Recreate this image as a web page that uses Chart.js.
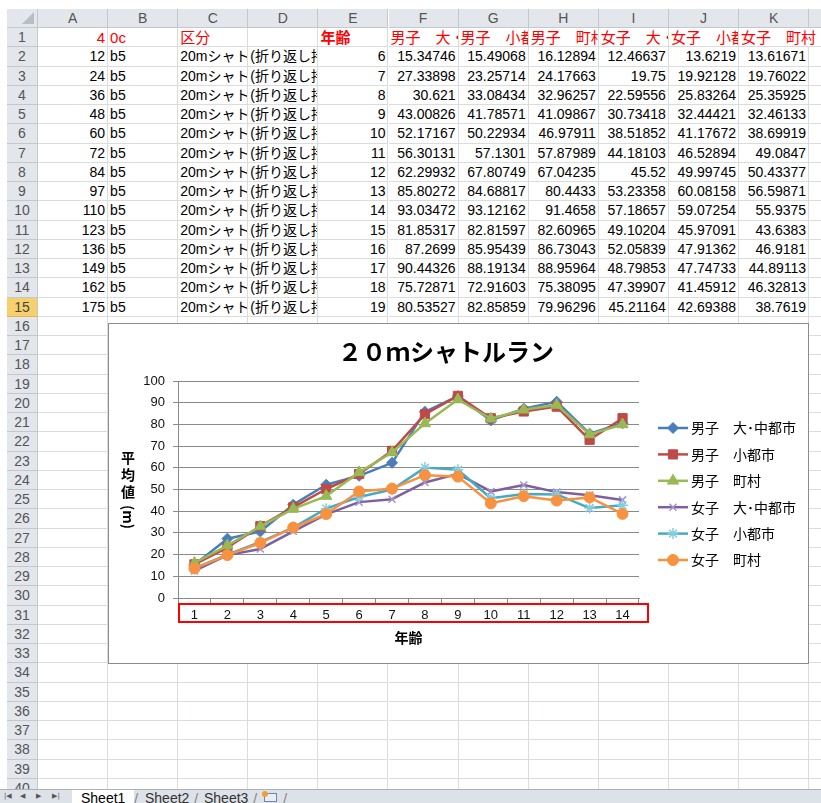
<!DOCTYPE html>
<html><head><meta charset="utf-8">
<script src="https://cdn.jsdelivr.net/npm/chart.js@4.4.1/dist/chart.umd.min.js"></script>
<style>
html,body{margin:0;padding:0;background:#fff;overflow:hidden;width:821px;height:803px;}
#sheet{position:absolute;left:0;top:0;width:821px;height:803px;overflow:hidden;font-family:"Liberation Sans","Noto Sans CJK JP",sans-serif;font-size:14px;}
.c{position:absolute;box-sizing:border-box;border-right:1px solid #dadcdd;border-bottom:1px solid #dadcdd;white-space:nowrap;overflow:hidden;line-height:19px;padding:0 2px;color:#000;background:#fff;}
.c.ov{overflow:visible;z-index:2;border-right-color:transparent;background:transparent;}
.h{position:absolute;box-sizing:border-box;background:#e3e6eb;border-right:1px solid #c3c8cf;border-bottom:1px solid #c3c8cf;color:#555;text-align:center;line-height:19px;white-space:nowrap;overflow:hidden;}
.h.sel{background:#f7d06e;border-bottom-color:#e2b450;color:#444;}
#chartBox{position:absolute;left:108px;top:323px;width:701px;height:341px;box-sizing:border-box;border:1px solid #8c8c8c;background:#fff;z-index:3;}
#chartBox canvas{position:absolute;left:0;top:0;}
#tabs{position:absolute;left:0;top:789px;width:821px;height:14px;background:#dde2e9;border-top:1px solid #aab1bb;overflow:hidden;z-index:3;}
.tab{position:absolute;top:0;height:14px;line-height:17px;font-size:14px;color:#333;white-space:nowrap;}
</style></head>
<body>
<div id="sheet"></div>
<script>
// ---------- data ----------
const xLabels = ['1','2','3','4','5','6','7','8','9','10','11','12','13','14'];
const ages = [6,7,8,9,10,11,12,13,14,15,16,17,18,19];
const colA = [12,24,36,48,60,72,84,97,110,123,136,149,162,175];
const seriesNames = ['男子　大･中都市','男子　小都市','男子　町村','女子　大･中都市','女子　小都市','女子　町村'];
const maleLarge = [15.34746,27.33898,30.621,43.00826,52.17167,56.30131,62.29932,85.80272,93.03472,81.85317,87.2699,90.44326,75.72871,80.53527];
const maleSmall = [15.49068,23.25714,33.08434,41.78571,50.22934,57.1301,67.80749,84.68817,93.12162,82.81597,85.95439,88.19134,72.91603,82.85859];
const maleTown = [16.12894,24.17663,32.96257,41.09867,46.97911,57.87989,67.04235,80.4433,91.4658,82.60965,86.73043,88.95964,75.38095,79.96296];
const femaleLarge = [12.46637,19.75,22.59556,30.73418,38.51852,44.18103,45.52,53.23358,57.18657,49.10204,52.05839,48.79853,47.39907,45.21164];
const femaleSmall = [13.6219,19.92128,25.83264,32.44421,41.17672,46.52894,49.99745,60.08158,59.07254,45.97091,47.91362,47.74733,41.45912,42.69388];
const femaleTown = [13.61671,19.76022,25.35925,32.46133,38.69919,49.0847,50.43377,56.59871,55.9375,43.6383,46.9181,44.89113,46.32813,38.7619];
const chartTitle = '２０ｍシャトルラン';
const xTitle = '年齢';
const yTitle = '平均値(m)';
const yTicks = {min:0, max:100, step:10};
const colLetters = ['A','B','C','D','E','F','G','H','I','J','K','L'];
const row1 = ['4','0c','区分','','年齢'];
const colB = 'b5', colC = '20mシャトルラン', colD = '(折り返し持久走)';
const sheetNames = ['Sheet1','Sheet2','Sheet3'];

// ---------- spreadsheet ----------
const sheet = document.getElementById('sheet');
const COL_X0 = 38, COL_W = 70.1, ROW_Y0 = 28, ROW_H = 19.25, HDR_Y = 9, HDR_X = 7;
function div(cls, x, y, w, h, text, style) {
  const d = document.createElement('div');
  d.className = cls;
  d.style.left = x + 'px'; d.style.top = y + 'px';
  d.style.width = w + 'px'; d.style.height = h + 'px';
  if (text !== undefined && text !== '') d.textContent = text;
  if (style) Object.assign(d.style, style);
  sheet.appendChild(d);
  return d;
}
// corner
const corner = div('h', HDR_X, HDR_Y, COL_X0 - HDR_X, ROW_Y0 - HDR_Y);
const tri = document.createElement('div');
Object.assign(tri.style, {position:'absolute', right:'3px', bottom:'3px', width:0, height:0,
  borderLeft:'12px solid transparent', borderBottom:'12px solid #b8bec6'});
corner.appendChild(tri);
// column headers
colLetters.forEach((L, i) => div('h', COL_X0 + i * COL_W, HDR_Y, COL_W, ROW_Y0 - HDR_Y, L));
const series = [maleLarge, maleSmall, maleTown, femaleLarge, femaleSmall, femaleTown];
for (let r = 1; r <= 40; r++) {
  const y = ROW_Y0 + (r - 1) * ROW_H;
  div('h' + (r === 15 ? ' sel' : ''), HDR_X, y, COL_X0 - HDR_X, ROW_H, String(r));
  for (let c = 0; c < colLetters.length; c++) {
    let text = '', align = 'left', st = {};
    if (r === 1) {
      if (c < 5) text = row1[c];
      else if (c - 5 < seriesNames.length) text = seriesNames[c - 5].replace('･', '・');
      st.color = '#ff0000';
      st.fontSize = '15px';
      if (c === 0) align = 'right';
      if (c === 4) st.fontWeight = 'bold';
    } else if (r <= 15) {
      const i = r - 2;
      if (c === 0) { text = String(colA[i]); align = 'right'; }
      else if (c === 1) text = colB;
      else if (c === 2) text = colC;
      else if (c === 3) text = colD;
      else if (c === 4) { text = String(ages[i]); align = 'right'; }
      else if (c - 5 < series.length) { text = String(series[c - 5][i]); align = 'right'; }
    }
    st.textAlign = align;
    const d = div('c', COL_X0 + c * COL_W, y, COL_W, ROW_H, text, st);
    if (r === 1 && c === 10) d.classList.add('ov');
  }
}
// tab bar
const tabs = document.createElement('div'); tabs.id = 'tabs'; sheet.appendChild(tabs);
function tab(x, text, style) {
  const t = document.createElement('div'); t.className = 'tab';
  t.style.left = x + 'px'; t.textContent = text; Object.assign(t.style, style || {});
  tabs.appendChild(t); return t;
}
const navSt = {fontFamily:'DejaVu Sans', fontSize:'7px', lineHeight:'13px', color:'#555'};
tab(4, '|◀', navSt);
tab(20, '◀', navSt);
tab(36, '▶', navSt);
tab(52, '▶|', navSt);
tab(72, '', {width:'62px', background:'#fff'});
tab(81, sheetNames[0], {color:'#000'});
tab(134, '/', {color:'#888', fontSize:'15px'});
tab(145, sheetNames[1]);
tab(194, '/', {color:'#888', fontSize:'15px'});
tab(204, sheetNames[2]);
tab(253, '/', {color:'#888', fontSize:'15px'});
tab(264, '', {width:'13px', height:'9px', top:'3px', border:'1px solid #6f86a8', background:'#e8eef8', boxSizing:'border-box'});
tab(262, '', {width:'6px', height:'6px', top:'1px', borderRadius:'3px', background:'#f0a030'});
tab(283, '/', {color:'#888', fontSize:'15px'});

// ---------- chart ----------
const box = document.createElement('div'); box.id = 'chartBox'; sheet.appendChild(box);
const cv = document.createElement('canvas'); cv.width = 699; cv.height = 339; box.appendChild(cv);

const styles = [
  {color:'#4a7ebb', point:'rectRot', r:5.5, pc:'#4a7ebb', fill:true},
  {color:'#be4b48', point:'rect', r:6.5, pc:'#be4b48', fill:true},
  {color:'#98b954', point:'triangle', r:6.5, pc:'#98b954', fill:true},
  {color:'#7d60a0', point:'crossRot', r:5, pc:'#a493cc', fill:false},
  {color:'#46aac5', point:'star', r:5.5, pc:'#86cde0', fill:false},
  {color:'#f69240', point:'circle', r:5.5, pc:'#f69240', fill:true}
];
const datasets = series.map((s, i) => ({
  label: seriesNames[i], data: s,
  borderColor: styles[i].color, backgroundColor: styles[i].color,
  borderWidth: 2.5, borderJoinStyle: 'round', tension: 0,
  pointStyle: styles[i].point, pointRadius: styles[i].r, pointHoverRadius: styles[i].r,
  pointBackgroundColor: styles[i].pc, pointBorderColor: styles[i].pc,
  pointBorderWidth: styles[i].fill ? 1 : 1.5,
  order: series.length - i
}));

const FONT = '"Liberation Sans","Noto Sans CJK JP",sans-serif';
const JFONT = '"Noto Sans CJK JP","Liberation Sans",sans-serif';
const decor = {
  id: 'decor',
  afterDraw(chart) {
    const ctx = chart.ctx, ca = chart.chartArea, xs = chart.scales.x;
    ctx.save();
    ctx.fillStyle = '#000';
    ctx.textAlign = 'center'; ctx.textBaseline = 'middle';
    // title
    ctx.font = 'bold 24px ' + JFONT;
    ctx.fillText(chartTitle, 337, 28);
    // x title
    ctx.font = 'bold 14px ' + JFONT;
    ctx.fillText(xTitle, (ca.left + ca.right) / 2, 314);
    // y title: upright CJK chars, rotated latin part
    const upright = yTitle.slice(0, 3), rotated = yTitle.slice(3);
    for (let k = 0; k < upright.length; k++) ctx.fillText(upright[k], 19, 134 + k * 17);
    ctx.save(); ctx.translate(19, 193); ctx.rotate(Math.PI / 2);
    ctx.fillText(rotated, 0, 0); ctx.restore();
    // red box around category labels
    ctx.strokeStyle = '#ff0000'; ctx.lineWidth = 2;
    ctx.strokeRect(xs.left + 1, 280, xs.right + 9 - xs.left - 1, 18);
    // legend
    ctx.textAlign = 'left';
    ctx.font = '14px ' + JFONT;
    chart.data.datasets.forEach((ds, i) => {
      const y = 104 + i * 26.4;
      ctx.strokeStyle = ds.borderColor; ctx.lineWidth = 2.5;
      ctx.beginPath(); ctx.moveTo(549, y); ctx.lineTo(579, y); ctx.stroke();
      ctx.fillStyle = ds.pointBackgroundColor; ctx.strokeStyle = ds.pointBorderColor;
      ctx.lineWidth = ds.pointBorderWidth;
      Chart.helpers.drawPoint(ctx, {pointStyle: ds.pointStyle, radius: ds.pointRadius, rotation: 0, borderWidth: ds.pointBorderWidth}, 564, y);
      ctx.fillStyle = '#000';
      ctx.fillText(ds.label, 582, y);
    });
    ctx.restore();
  }
};

new Chart(cv, {
  type: 'line',
  data: { labels: xLabels, datasets },
  plugins: [decor],
  options: {
    responsive: false, animation: false, devicePixelRatio: 1,
    layout: { padding: { top: 57, right: 169, bottom: 0, left: 0 } },
    plugins: { legend: { display: false }, title: { display: false }, tooltip: { enabled: false } },
    scales: {
      x: {
        type: 'category', offset: true,
        grid: { offset: true, drawOnChartArea: false, drawTicks: true, tickLength: 5, color: '#8a8a8a', lineWidth: 1 },
        border: { color: '#8a8a8a', width: 1 },
        ticks: { color: '#111', font: { size: 13, family: FONT }, padding: 5, maxRotation: 0, autoSkip: false },
        afterFit(s) { s.height = 65; }
      },
      y: {
        min: yTicks.min, max: yTicks.max,
        grid: { color: '#8a8a8a', lineWidth: 1, drawTicks: true, tickLength: 5 },
        border: { color: '#8a8a8a', width: 1 },
        ticks: { stepSize: yTicks.step, color: '#111', font: { size: 13, family: FONT }, padding: 8 },
        afterFit(s) { s.width = 69; }
      }
    }
  }
});
</script>
</body></html>
